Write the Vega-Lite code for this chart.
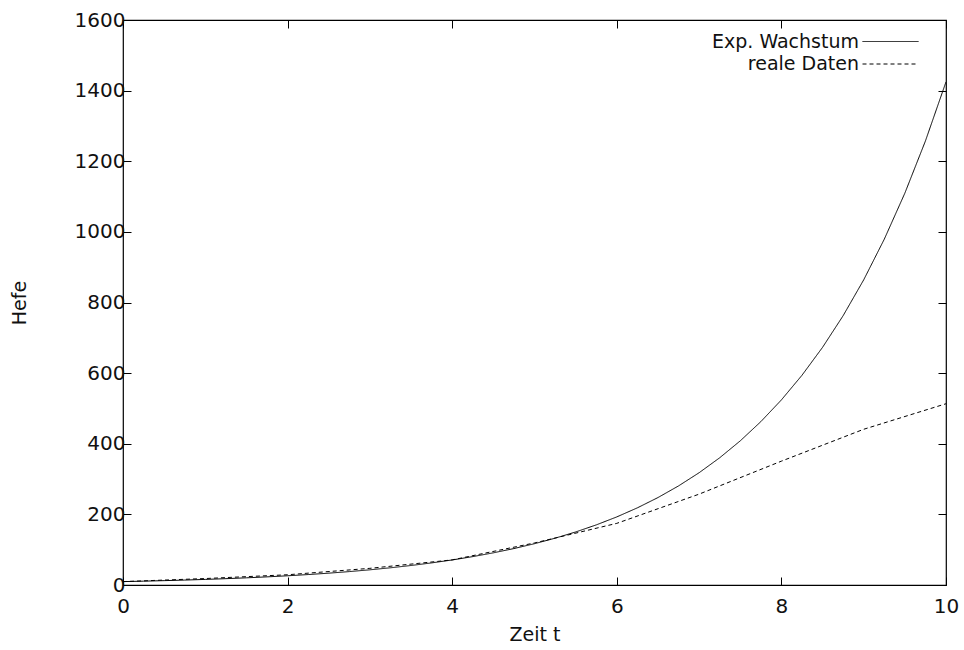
{
  "$schema": "https://vega.github.io/schema/vega-lite/v6.json",
  "autosize": {"type": "none"},
  "width": 823,
  "height": 565,
  "padding": {"left": 123, "top": 20, "right": 18, "bottom": 65},
  "background": "white",
  "config": {
    "view": {"stroke": "black", "strokeWidth": 1.2},
    "font": "DejaVu Sans",
    "axis": {
      "grid": false,
      "domain": false,
      "tickColor": "black",
      "tickSize": -8,
      "tickWidth": 1,
      "labelFont": "DejaVu Sans",
      "labelFontSize": 20,
      "labelColor": "#111",
      "titleFont": "DejaVu Sans",
      "titleFontSize": 19,
      "titleFontWeight": "normal",
      "titleColor": "#111"
    }
  },
  "data": {
    "values": [
      {"t": 0, "hefe": 9.6, "serie": "Exp. Wachstum"},
      {"t": 0.25, "hefe": 10.88, "serie": "Exp. Wachstum"},
      {"t": 0.5, "hefe": 12.33, "serie": "Exp. Wachstum"},
      {"t": 0.75, "hefe": 13.97, "serie": "Exp. Wachstum"},
      {"t": 1, "hefe": 15.83, "serie": "Exp. Wachstum"},
      {"t": 1.25, "hefe": 17.93, "serie": "Exp. Wachstum"},
      {"t": 1.5, "hefe": 20.32, "serie": "Exp. Wachstum"},
      {"t": 1.75, "hefe": 23.03, "serie": "Exp. Wachstum"},
      {"t": 2, "hefe": 26.10, "serie": "Exp. Wachstum"},
      {"t": 2.25, "hefe": 29.57, "serie": "Exp. Wachstum"},
      {"t": 2.5, "hefe": 33.51, "serie": "Exp. Wachstum"},
      {"t": 2.75, "hefe": 37.97, "serie": "Exp. Wachstum"},
      {"t": 3, "hefe": 43.02, "serie": "Exp. Wachstum"},
      {"t": 3.25, "hefe": 48.75, "serie": "Exp. Wachstum"},
      {"t": 3.5, "hefe": 55.24, "serie": "Exp. Wachstum"},
      {"t": 3.75, "hefe": 62.60, "serie": "Exp. Wachstum"},
      {"t": 4, "hefe": 70.93, "serie": "Exp. Wachstum"},
      {"t": 4.25, "hefe": 80.39, "serie": "Exp. Wachstum"},
      {"t": 4.5, "hefe": 91.08, "serie": "Exp. Wachstum"},
      {"t": 4.75, "hefe": 103.22, "serie": "Exp. Wachstum"},
      {"t": 5, "hefe": 116.95, "serie": "Exp. Wachstum"},
      {"t": 5.25, "hefe": 132.54, "serie": "Exp. Wachstum"},
      {"t": 5.5, "hefe": 150.17, "serie": "Exp. Wachstum"},
      {"t": 5.75, "hefe": 170.17, "serie": "Exp. Wachstum"},
      {"t": 6, "hefe": 192.82, "serie": "Exp. Wachstum"},
      {"t": 6.25, "hefe": 218.50, "serie": "Exp. Wachstum"},
      {"t": 6.5, "hefe": 247.59, "serie": "Exp. Wachstum"},
      {"t": 6.75, "hefe": 280.57, "serie": "Exp. Wachstum"},
      {"t": 7, "hefe": 317.91, "serie": "Exp. Wachstum"},
      {"t": 7.25, "hefe": 360.25, "serie": "Exp. Wachstum"},
      {"t": 7.5, "hefe": 408.20, "serie": "Exp. Wachstum"},
      {"t": 7.75, "hefe": 462.56, "serie": "Exp. Wachstum"},
      {"t": 8, "hefe": 524.14, "serie": "Exp. Wachstum"},
      {"t": 8.25, "hefe": 593.93, "serie": "Exp. Wachstum"},
      {"t": 8.5, "hefe": 673.01, "serie": "Exp. Wachstum"},
      {"t": 8.75, "hefe": 762.62, "serie": "Exp. Wachstum"},
      {"t": 9, "hefe": 864.16, "serie": "Exp. Wachstum"},
      {"t": 9.25, "hefe": 979.23, "serie": "Exp. Wachstum"},
      {"t": 9.5, "hefe": 1109.61, "serie": "Exp. Wachstum"},
      {"t": 9.75, "hefe": 1257.36, "serie": "Exp. Wachstum"},
      {"t": 10, "hefe": 1424.77, "serie": "Exp. Wachstum"},
      {"t": 0, "hefe": 9.6, "serie": "reale Daten"},
      {"t": 1, "hefe": 18.3, "serie": "reale Daten"},
      {"t": 2, "hefe": 29.0, "serie": "reale Daten"},
      {"t": 3, "hefe": 47.2, "serie": "reale Daten"},
      {"t": 4, "hefe": 71.1, "serie": "reale Daten"},
      {"t": 5, "hefe": 119.1, "serie": "reale Daten"},
      {"t": 6, "hefe": 174.6, "serie": "reale Daten"},
      {"t": 7, "hefe": 257.3, "serie": "reale Daten"},
      {"t": 8, "hefe": 350.7, "serie": "reale Daten"},
      {"t": 9, "hefe": 441.0, "serie": "reale Daten"},
      {"t": 10, "hefe": 513.3, "serie": "reale Daten"}
    ]
  },
  "layer": [
    {
      "transform": [{"filter": "datum.serie === 'Exp. Wachstum'"}],
      "mark": {"type": "line", "color": "black", "strokeWidth": 1, "clip": true},
      "encoding": {
        "x": {"field": "t", "type": "quantitative", "scale": {"domain": [0, 10], "nice": false},
              "axis": {"orient": "bottom", "title": "Zeit t", "values": [0, 2, 4, 6, 8, 10], "format": "d", "labelPadding": 19, "titlePadding": 9, "labelFlush": false}},
        "y": {"field": "hefe", "type": "quantitative", "scale": {"domain": [0, 1600], "nice": false},
              "axis": {"orient": "left", "title": "Hefe", "values": [0, 200, 400, 600, 800, 1000, 1200, 1400, 1600], "format": "d", "labelPadding": 6, "titlePadding": 45, "labelFlush": false}},
        "strokeDash": {"field": "serie", "type": "nominal",
          "scale": {"domain": ["Exp. Wachstum", "reale Daten"], "range": [[1, 0], [4, 3]]},
          "legend": {"title": null, "orient": "none", "legendX": 757, "legendY": 11, "symbolType": "M-2.8,0L2.8,0", "symbolSize": 400, "symbolStrokeWidth": 1, "symbolStrokeColor": "black", "symbolFillColor": "transparent", "rowPadding": 1.5, "padding": 0, "labelAlign": "right", "labelOffset": -42, "labelFontSize": 19, "labelFont": "DejaVu Sans", "labelColor": "#111", "labelLimit": 400}}
      }
    },
    {
      "transform": [{"filter": "datum.serie === 'reale Daten'"}],
      "mark": {"type": "line", "color": "black", "strokeWidth": 1, "clip": true},
      "encoding": {
        "x": {"field": "t", "type": "quantitative",
              "axis": {"orient": "top", "title": null, "labels": false, "values": [0, 2, 4, 6, 8, 10]}},
        "y": {"field": "hefe", "type": "quantitative",
              "axis": {"orient": "right", "title": null, "labels": false, "values": [0, 200, 400, 600, 800, 1000, 1200, 1400, 1600]}},
        "strokeDash": {"field": "serie", "type": "nominal"}
      }
    }
  ],
  "resolve": {"axis": {"x": "independent", "y": "independent"}}
}
